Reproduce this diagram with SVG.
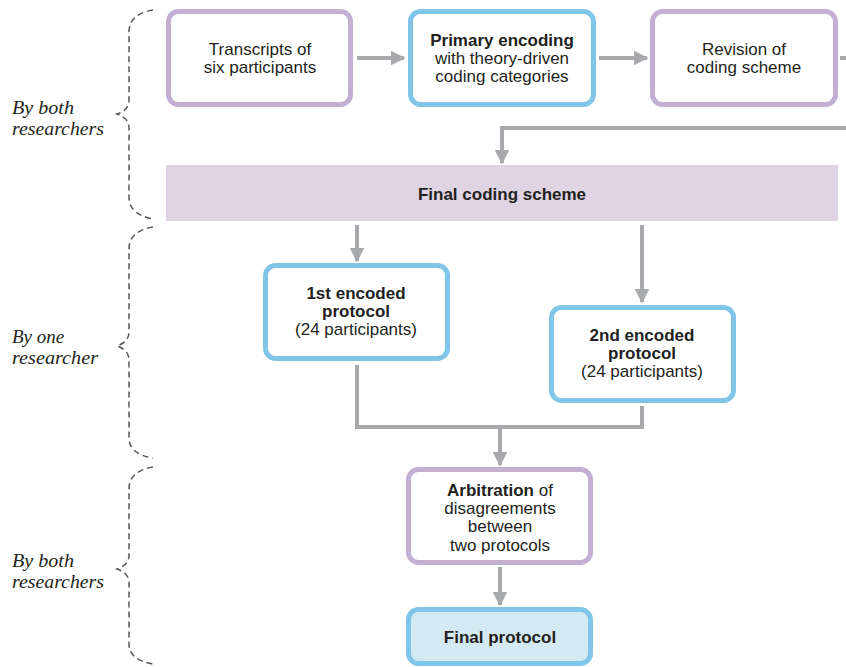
<svg xmlns="http://www.w3.org/2000/svg" width="846" height="667" viewBox="0 0 846 667">
<style>
.box{fill:#fff;stroke-width:5}
.p{stroke:#c4afd4}
.b{stroke:#80c6e8}
.t{font-family:"Liberation Sans",Arial,sans-serif;font-size:17px;fill:#231f20;text-anchor:middle}
.bd{font-weight:bold}
.lab{font-family:"Liberation Serif","Times New Roman",serif;font-style:italic;font-size:19px;fill:#231f20}
.con{fill:none;stroke:#a7a9ac;stroke-width:4}
.brace{fill:none;stroke:#555;stroke-width:1.5;stroke-dasharray:6 4}
</style>
<defs>
<marker id="ah" viewBox="0 0 10 10" refX="9" refY="5" markerWidth="3.6" markerHeight="3.6" orient="auto" markerUnits="strokeWidth">
<path d="M0,0 L10,5 L0,10 z" fill="#a7a9ac"/>
</marker>
</defs>
<rect width="846" height="667" fill="#fff"/>
<g id="braces">
<path class="brace" d="M153,10 Q129,14 129,32 V100 Q129,110 117,114 Q129,118 129,128 V198 Q129,214 153,219"/>
<path class="brace" d="M153,227 Q129,231 129,249 V332 Q129,342 117,346 Q129,350 129,360 V438 Q129,454 153,458"/>
<path class="brace" d="M153,467 Q129,471 129,489 V555 Q129,565 117,569 Q129,573 129,583 V644 Q129,660 153,664"/>
</g>
<g id="labels">
<text class="lab" x="12" y="114" textLength="62" lengthAdjust="spacingAndGlyphs">By both</text>
<text class="lab" x="12" y="135" textLength="92" lengthAdjust="spacingAndGlyphs">researchers</text>
<text class="lab" x="12" y="343">By one</text>
<text class="lab" x="12" y="364" textLength="86" lengthAdjust="spacingAndGlyphs">researcher</text>
<text class="lab" x="12" y="567" textLength="62" lengthAdjust="spacingAndGlyphs">By both</text>
<text class="lab" x="12" y="588" textLength="92" lengthAdjust="spacingAndGlyphs">researchers</text>
</g>
<g id="connectors">
<path class="con" d="M357,58 H404" marker-end="url(#ah)"/>
<path class="con" d="M599,58 H647" marker-end="url(#ah)"/>
<path class="con" d="M840,58 H856 V128 H502 V163" marker-end="url(#ah)"/>
<path class="con" d="M357,225 V261" marker-end="url(#ah)"/>
<path class="con" d="M642,225 V302" marker-end="url(#ah)"/>
<path class="con" d="M357,365 V427 H642 V406"/>
<path class="con" d="M500,427 V465" marker-end="url(#ah)"/>
<path class="con" d="M500,567 V605" marker-end="url(#ah)"/>
</g>
<g id="n1">
<rect class="box p" x="168.5" y="11.5" width="182" height="93" rx="10"/>
<text class="t" x="260" y="55">Transcripts of</text>
<text class="t" x="260" y="73">six participants</text>
</g>
<g id="n2">
<rect class="box b" x="410.5" y="11.5" width="183" height="93" rx="10"/>
<text class="t bd" x="502" y="46">Primary encoding</text>
<text class="t" x="502" y="64">with theory-driven</text>
<text class="t" x="502" y="82">coding categories</text>
</g>
<g id="n3">
<rect class="box p" x="652.5" y="11.5" width="183" height="93" rx="10"/>
<text class="t" x="744" y="55">Revision of</text>
<text class="t" x="744" y="73">coding scheme</text>
</g>
<g id="n4">
<rect x="166" y="165" width="672" height="56" fill="#e0d4e4"/>
<text class="t bd" x="502" y="200">Final coding scheme</text>
</g>
<g id="n5">
<rect class="box b" x="265.5" y="265.5" width="182" height="93" rx="10"/>
<text class="t bd" x="356" y="299">1st encoded</text>
<text class="t bd" x="356" y="317">protocol</text>
<text class="t" x="356" y="335">(24 participants)</text>
</g>
<g id="n6">
<rect class="box b" x="551.5" y="307.5" width="182" height="93" rx="10"/>
<text class="t bd" x="642" y="341">2nd encoded</text>
<text class="t bd" x="642" y="359">protocol</text>
<text class="t" x="642" y="377">(24 participants)</text>
</g>
<g id="n7">
<rect class="box p" x="408.5" y="469.5" width="182" height="93" rx="10"/>
<text class="t" x="500" y="496"><tspan class="bd">Arbitration</tspan> of</text>
<text class="t" x="500" y="514">disagreements</text>
<text class="t" x="500" y="532">between</text>
<text class="t" x="500" y="551">two protocols</text>
</g>
<g id="n8">
<rect class="box b" x="408.5" y="609.5" width="182" height="54" rx="10" style="fill:#d4eaf3"/>
<text class="t bd" x="500" y="643">Final protocol</text>
</g>
</svg>
